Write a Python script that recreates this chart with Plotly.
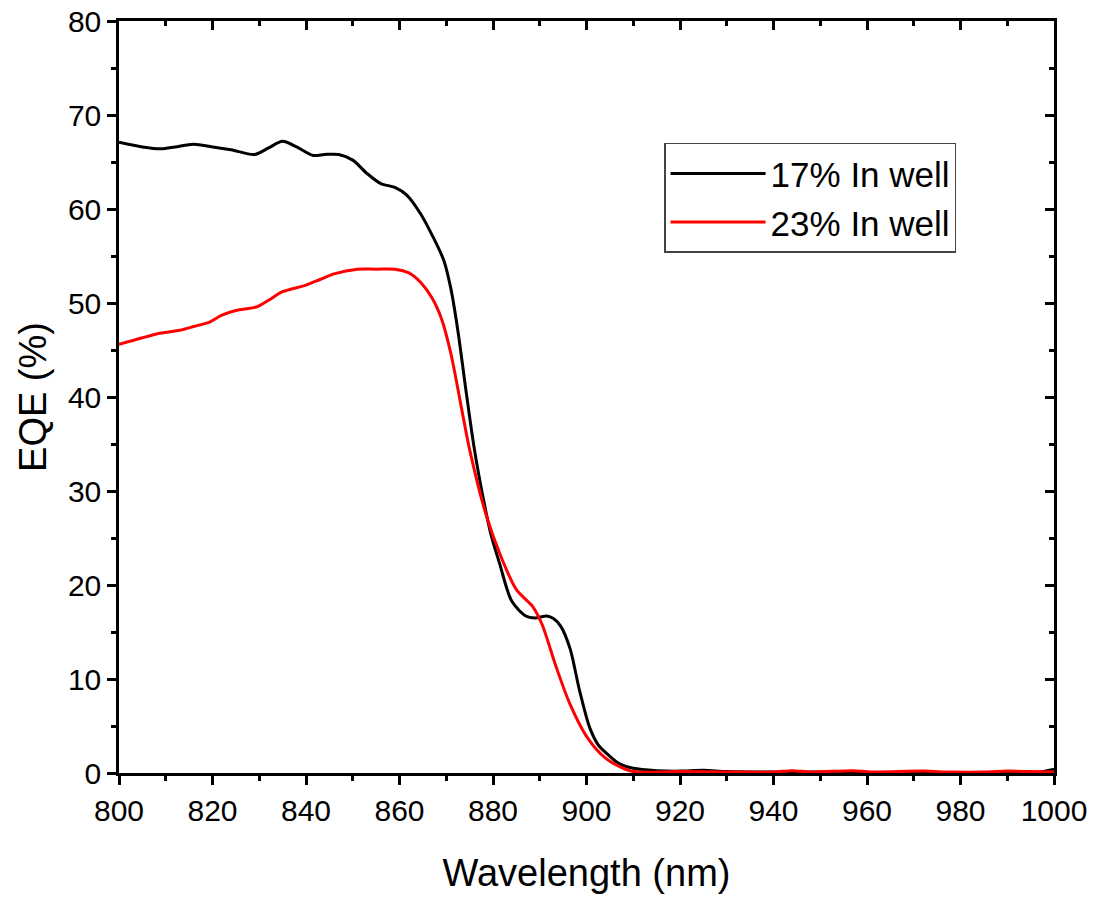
import plotly.graph_objects as go

# ---- data ----
wl_17 = [800, 805, 809, 812, 816, 820, 824, 829, 832, 835, 838, 841.5, 844, 847, 850, 853,
         856, 859, 861.5, 864.5, 867, 869.5, 871, 872.5, 874.3, 876, 878, 879.5, 881.4, 884,
         887, 889, 891.5, 893, 894.5, 896.5, 898.5, 900.7, 902.5, 904.5, 907, 910, 915, 920,
         925, 930, 940, 950, 960, 970, 980, 990, 997, 1000]
eqe_17 = [67.1, 66.6, 66.4, 66.6, 66.9, 66.6, 66.3, 65.8, 66.5, 67.2, 66.6, 65.7, 65.8, 65.8,
          65.2, 63.8, 62.7, 62.3, 61.5, 59.5, 57.2, 54.5, 51.5, 47.0, 40.4, 34.5, 29.0, 25.5,
          22.3, 18.3, 16.7, 16.5, 16.7, 16.4, 15.6, 13.2, 8.8, 4.8, 3.0, 2.0, 1.0, 0.5, 0.25,
          0.2, 0.3, 0.15, 0.1, 0.1, 0.05, 0.05, 0.05, 0.05, 0.1, 0.4]

wl_23 = [800, 805, 809, 813, 816, 819.5, 822, 825, 829.5, 832, 835, 840, 843, 846, 851, 855,
         859, 862, 864.5, 867, 869, 871, 873.5, 875, 878.5, 881.4, 885, 888.5, 890.5, 893.5,
         896.4, 900, 904, 907, 910, 920, 930, 940, 944, 948, 957, 961, 972, 978, 985, 990,
         995, 1000]
eqe_23 = [45.6, 46.3, 46.8, 47.1, 47.5, 48.0, 48.7, 49.2, 49.6, 50.3, 51.2, 51.9, 52.5, 53.1,
          53.6, 53.6, 53.6, 53.2, 52.2, 50.5, 48.3, 44.6, 38.2, 34.4, 27.5, 23.4, 19.5, 17.7,
          15.8, 11.3, 7.4, 3.9, 1.6, 0.7, 0.15, 0.15, 0.1, 0.1, 0.25, 0.1, 0.25, 0.1, 0.2,
          0.1, 0.1, 0.2, 0.15, 0.1]

series_names = ["17% In well", "23% In well"]
series_colors = ["#000000", "#ff0000"]

x_range = [800, 1000]
y_range = [0, 80]
x_ticks = [800, 820, 840, 860, 880, 900, 920, 940, 960, 980, 1000]
y_ticks = [0, 10, 20, 30, 40, 50, 60, 70, 80]

FONT = "Liberation Sans, Arial, sans-serif"

fig = go.Figure()
fig.add_trace(go.Scatter(x=wl_17, y=eqe_17, mode="lines", name=series_names[0],
                         line=dict(color=series_colors[0], width=3, shape="spline", smoothing=0.8)))
fig.add_trace(go.Scatter(x=wl_23, y=eqe_23, mode="lines", name=series_names[1],
                         line=dict(color=series_colors[1], width=3, shape="spline", smoothing=0.8)))
# empty trace to activate the mirrored (top/right) axes
fig.add_trace(go.Scatter(x=[], y=[], xaxis="x2", yaxis="y2", showlegend=False, hoverinfo="skip"))

axis_common = dict(showgrid=False, zeroline=False, showline=True, linecolor="black",
                   linewidth=2.5, tickcolor="black", tickwidth=2.5, ticklen=9, automargin=False)

fig.update_layout(
    width=1099, height=898,
    margin=dict(l=119, r=45, t=21, b=125, autoexpand=False),
    paper_bgcolor="white", plot_bgcolor="white",
    font=dict(family=FONT, color="black"),
    xaxis=dict(range=x_range, tickvals=x_ticks, ticks="outside",
               tickfont=dict(size=30, family=FONT),
               title=dict(text="Wavelength (nm)", font=dict(size=38, family=FONT), standoff=34),
               minor=dict(ticks="outside", dtick=10, ticklen=5, tickwidth=2.5, tickcolor="black"),
               **axis_common),
    yaxis=dict(range=y_range, tickvals=y_ticks, ticks="outside",
               tickfont=dict(size=30, family=FONT),
               title=dict(text="EQE (%)", font=dict(size=38, family=FONT), standoff=10),
               minor=dict(ticks="outside", dtick=5, ticklen=5, tickwidth=2.5, tickcolor="black"),
               **axis_common),
    xaxis2=dict(range=x_range, tickvals=x_ticks, ticks="inside", overlaying="x", side="top",
                anchor="y2", showticklabels=False,
                minor=dict(ticks="inside", dtick=10, ticklen=5, tickwidth=2.5, tickcolor="black"),
                **axis_common),
    yaxis2=dict(range=y_range, tickvals=y_ticks, ticks="inside", overlaying="y", side="right",
                anchor="x2", showticklabels=False,
                minor=dict(ticks="inside", dtick=5, ticklen=5, tickwidth=2.5, tickcolor="black"),
                **axis_common),
    legend=dict(x=0.583, y=0.838, xanchor="left", yanchor="top",
                bgcolor="white", bordercolor="#444444", borderwidth=1.5,
                font=dict(size=35, family=FONT), tracegroupgap=0, itemwidth=95),
    showlegend=True,
)

fig.write_html("out.html")
